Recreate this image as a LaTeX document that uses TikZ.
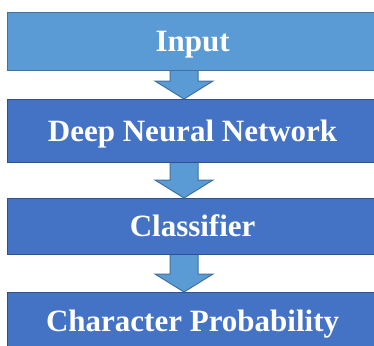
\documentclass[tikz,border=0pt]{standalone}
\usepackage{fontspec}
\newfontfamily\boxfont{LiberationSerif-Bold.ttf}
\usetikzlibrary{calc}
\definecolor{lightblue}{HTML}{5B9BD5}
\definecolor{midblue}{HTML}{4472C4}
\definecolor{edgeA}{HTML}{41719C}
\definecolor{edgeB}{HTML}{2F528F}
\tikzset{
  box/.style={draw=edgeB, fill=midblue, line width=1.2pt, minimum width=370pt,
    text=white, font=\boxfont\fontsize{31}{31}\selectfont, inner sep=0pt,
    text height=20pt, text depth=0pt, anchor=north west},
  blockarr/.style={draw=edgeA, fill=lightblue, line width=1pt, line join=miter}
}
\newcommand{\blockarrow}[2]{%
  \draw[blockarr] let \p1=(#1.south -| ax), \p2=(#2.north -| ax) in
    (\x1-14pt,\y1) -- (\x1-14pt,\y2+18pt) -- (\x1-29pt,\y2+18pt) -- (\x2,\y2)
    -- (\x1+29pt,\y2+18pt) -- (\x1+14pt,\y2+18pt) -- (\x1+14pt,\y1);}
\begin{document}
\begin{tikzpicture}[x=1pt,y=1pt]
\useasboundingbox (0,0) rectangle (374,-345);
\coordinate (ax) at (184,0);
\node[box, fill=lightblue, draw=edgeA, minimum height=58pt] (in) at (7,-12) {Input};
\node[box, minimum height=63pt] (dnn) at (7,-99) {Deep Neural Network};
\node[box, minimum height=56pt] (cls) at (7,-198) {Classifier};
\node[box, minimum height=58pt] (prob) at (7,-292) {Character Probability};
\blockarrow{in}{dnn}
\blockarrow{dnn}{cls}
\blockarrow{cls}{prob}
\end{tikzpicture}
\end{document}
